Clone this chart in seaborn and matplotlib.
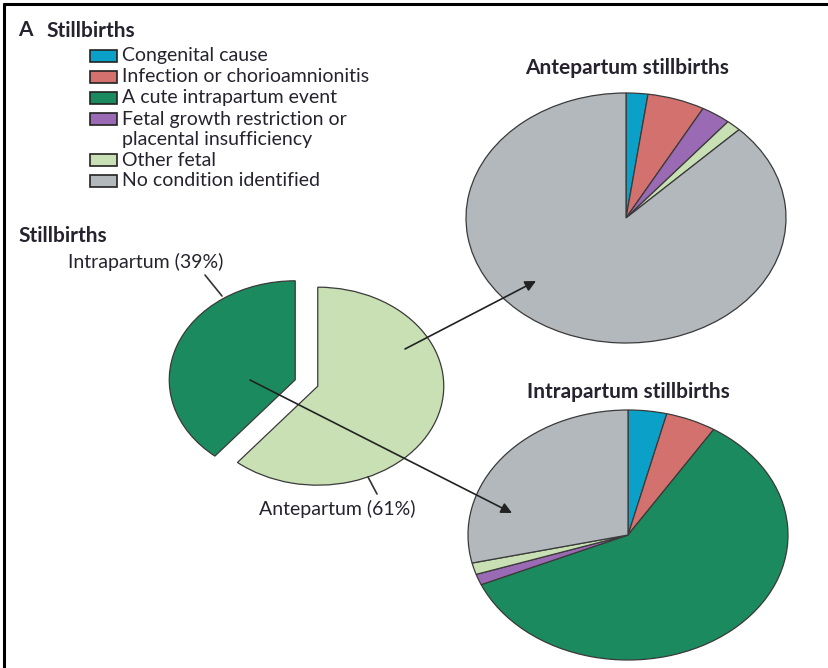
import matplotlib
matplotlib.use("Agg")
import matplotlib.pyplot as plt
import seaborn as sns
from matplotlib.patches import Rectangle

sns.set_theme(style="white")
plt.rcParams['font.family'] = ['Lato', 'DejaVu Sans']

# ---------------- data ----------------
categories = ["Congenital cause", "Infection or chorioamnionitis",
              "A cute intrapartum event",
              "Fetal growth restriction or\nplacental insufficiency",
              "Other fetal", "No condition identified"]
cat_colors = ["#0aa0c8", "#d3716f", "#1b8a5e", "#9a6bb4", "#c9e0b5", "#b3b8bc"]

antepartum_values = [2.2, 5.8, 0.0, 3.0, 1.5, 87.5]
intrapartum_values = [3.9, 5.1, 59.5, 1.4, 1.5, 28.6]

overall_labels = ["Intrapartum (39%)", "Antepartum (61%)"]
overall_values = [39, 61]
overall_colors = ["#1b8a5e", "#c9e0b5"]

W, H = 829, 668
TXT = "#26232e"
EDGE = "#3a3a3a"
FS = 14        # regular text
FB = 15        # bold headings

fig = plt.figure(figsize=(W / 100, H / 100), dpi=100)
fig.patch.set_facecolor("white")


def pie_axes(cx, cy, rx, ry, pad=1.3):
    ax = fig.add_axes([(cx - pad * rx) / W, (H - (cy + pad * ry)) / H,
                       2 * pad * rx / W, 2 * pad * ry / H])
    return ax, pad


def finish(ax, pad):
    ax.set_aspect("auto")
    ax.set_xlim(-pad, pad)
    ax.set_ylim(-pad, pad)
    ax.axis("off")


# overall pie (left)
ax0, p0 = pie_axes(306.5, 383, 126, 99)
ax0.pie(overall_values, colors=overall_colors, startangle=90, counterclock=True,
        explode=[0.095, 0.095],
        wedgeprops=dict(edgecolor=EDGE, linewidth=0.9))
finish(ax0, p0)


def sub_pie(cx, cy, values):
    ax, p = pie_axes(cx, cy, 160, 125)
    vals = [v for v in values if v > 0]
    cols = [c for v, c in zip(values, cat_colors) if v > 0]
    ax.pie(vals, colors=cols, startangle=90, counterclock=False,
           wedgeprops=dict(edgecolor=EDGE, linewidth=0.9))
    finish(ax, p)


sub_pie(626, 218, antepartum_values)
sub_pie(628, 535, intrapartum_values)

# overlay axes in pixel coordinates
ov = fig.add_axes([0, 0, 1, 1], zorder=10)
ov.set_xlim(0, W)
ov.set_ylim(H, 0)
ov.axis("off")
ov.patch.set_alpha(0)

# border (top and left)
ov.plot([3, W], [4, 4], color="black", lw=2.2, solid_capstyle="butt")
ov.plot([4, 4], [3, H], color="black", lw=2.2, solid_capstyle="butt")

# heading
ov.text(18, 30, "A", fontsize=15, fontweight="bold", color=TXT, va="center")
ov.text(46, 31, "Stillbirths", fontsize=FB, fontweight="bold", color=TXT, va="center")

# legend
row_y = [56, 77, 98, 119, 160, 181]
for lab, col, y in zip(categories, cat_colors, row_y):
    ov.add_patch(Rectangle((90, y - 6), 27, 12, facecolor=col,
                           edgecolor="#222222", lw=1.2))
    for k, line in enumerate(lab.split("\n")):
        ov.text(122, y + 21 * k, line, fontsize=FS, color=TXT, va="center")

# titles
ov.text(18, 236, "Stillbirths", fontsize=FB, fontweight="bold", color=TXT, va="center")
ov.text(627, 68, "Antepartum stillbirths", fontsize=FB, fontweight="bold",
        color=TXT, ha="center", va="center")
ov.text(628, 392, "Intrapartum stillbirths", fontsize=FB, fontweight="bold",
        color=TXT, ha="center", va="center")

# left pie labels and leaders
ov.text(68, 262, overall_labels[0], fontsize=FS, color=TXT, va="center")
ov.plot([205, 222], [275, 296], color="#333333", lw=1.2)
ov.text(259, 509, overall_labels[1], fontsize=FS, color=TXT, va="center")
ov.plot([368, 377], [477, 494], color="#333333", lw=1.2)

# arrows
arrow = dict(arrowstyle="-|>", color="#222222", lw=1.2, mutation_scale=16,
             shrinkA=0, shrinkB=0)
ov.annotate("", xy=(536, 281), xytext=(405, 349), arrowprops=arrow)
ov.annotate("", xy=(512, 513), xytext=(250, 380), arrowprops=arrow)

fig.savefig("out.png", dpi=100, facecolor="white")
